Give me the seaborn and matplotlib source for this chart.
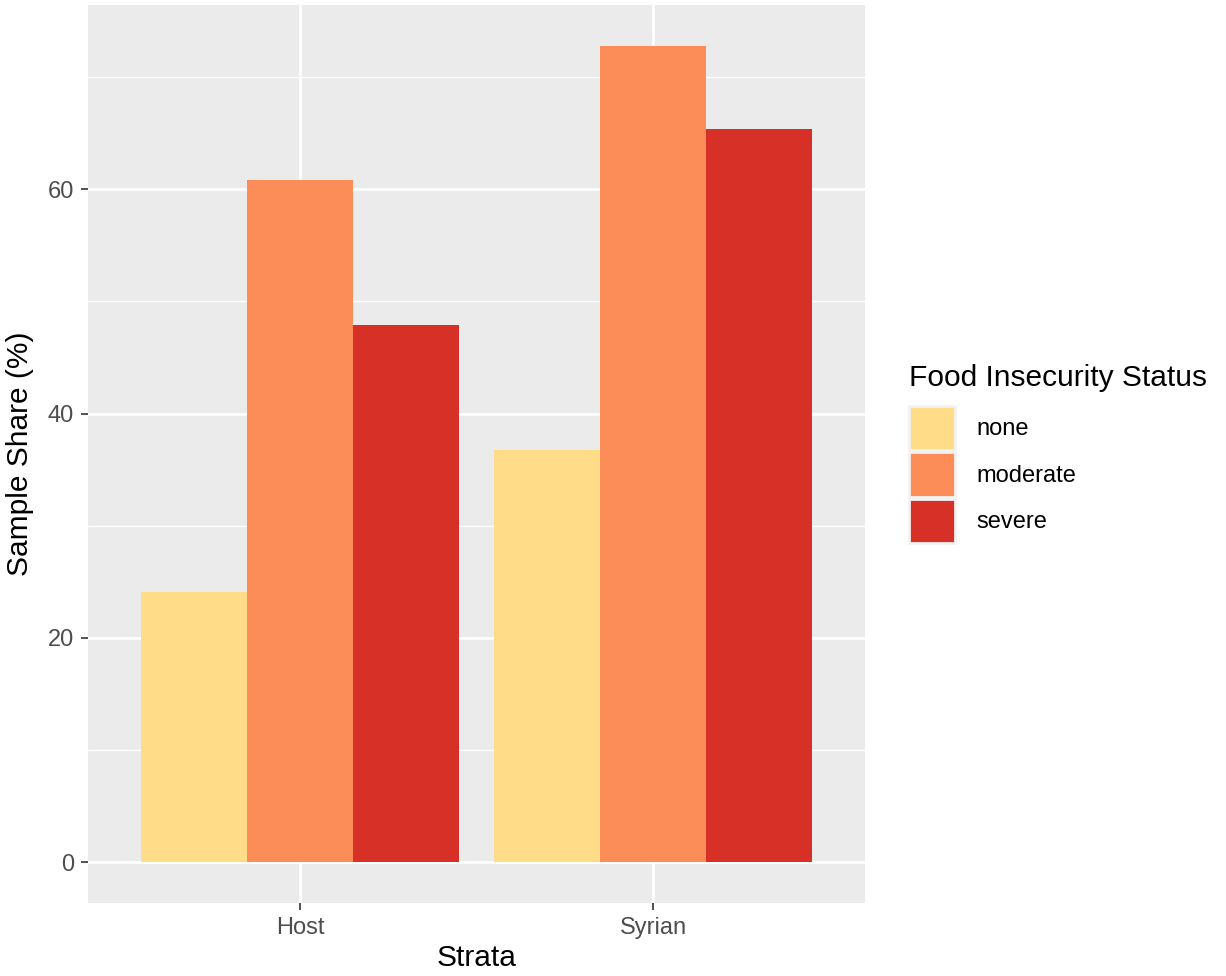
import pandas as pd
import matplotlib.pyplot as plt
import seaborn as sns
from matplotlib.ticker import MultipleLocator

# === data ===
strata = ["Host", "Syrian"]
status = ["none", "moderate", "severe"]
host_share = [24.1, 60.8, 47.9]
syrian_share = [36.8, 72.8, 65.4]
colors = ["#FEDC88", "#FC8D59", "#D73027"]

df = pd.DataFrame({
    "Strata": [strata[0]] * 3 + [strata[1]] * 3,
    "Food Insecurity Status": status * 2,
    "Sample Share (%)": host_share + syrian_share,
})

sns.set_theme(style="darkgrid")
plt.rcParams["font.family"] = ["Liberation Sans", "DejaVu Sans"]

fig = plt.figure(figsize=(12.26, 9.76), dpi=100)
ax = fig.add_axes([88 / 1226, 1 - 903 / 976, (865 - 88) / 1226, (903 - 5) / 976])

sns.barplot(data=df, x="Strata", y="Sample Share (%)", hue="Food Insecurity Status",
            hue_order=status, palette=colors, width=0.9, saturation=1,
            edgecolor="none", linewidth=0, ax=ax)

ax.set_facecolor("#EBEBEB")
ax.set_xlim(-0.6, 1.6)
ax.set_ylim(-3.64, 76.44)
ax.yaxis.set_major_locator(MultipleLocator(20))
ax.yaxis.set_minor_locator(MultipleLocator(10))
ax.grid(which="major", color="white", linewidth=2.0)
ax.grid(which="minor", axis="y", color="white", linewidth=1.0)
ax.set_axisbelow(True)
for s in ax.spines.values():
    s.set_visible(False)

ax.tick_params(axis="both", which="major", length=5, width=1.2, color="#333333",
               labelcolor="#4D4D4D", labelsize=17, pad=5, bottom=True, left=True)
ax.tick_params(axis="y", which="minor", length=0)

ax.set_xlabel("Strata", fontsize=21.5, color="black", labelpad=4)
ax.set_ylabel("Sample Share (%)", fontsize=21.5, color="black", labelpad=10)

ax.get_legend().remove()
handles = [plt.Rectangle((0, 0), 1, 1, facecolor=c, edgecolor="#F2F2F2", linewidth=2)
           for c in colors]
leg = fig.legend(handles, status, title="Food Insecurity Status",
                 loc="upper left", bbox_to_anchor=(909 / 1226, 1 - 364 / 976),
                 frameon=False, fontsize=17, title_fontsize=21.5,
                 handlelength=1.95, handleheight=2.5, handletextpad=0.9,
                 labelspacing=0.1, borderaxespad=0, borderpad=0)
leg._legend_box.align = "left"
leg._legend_box.sep = 10
leg.get_title().set_color("black")
for t in leg.get_texts():
    t.set_color("black")

fig.savefig("out.png", dpi=100)
